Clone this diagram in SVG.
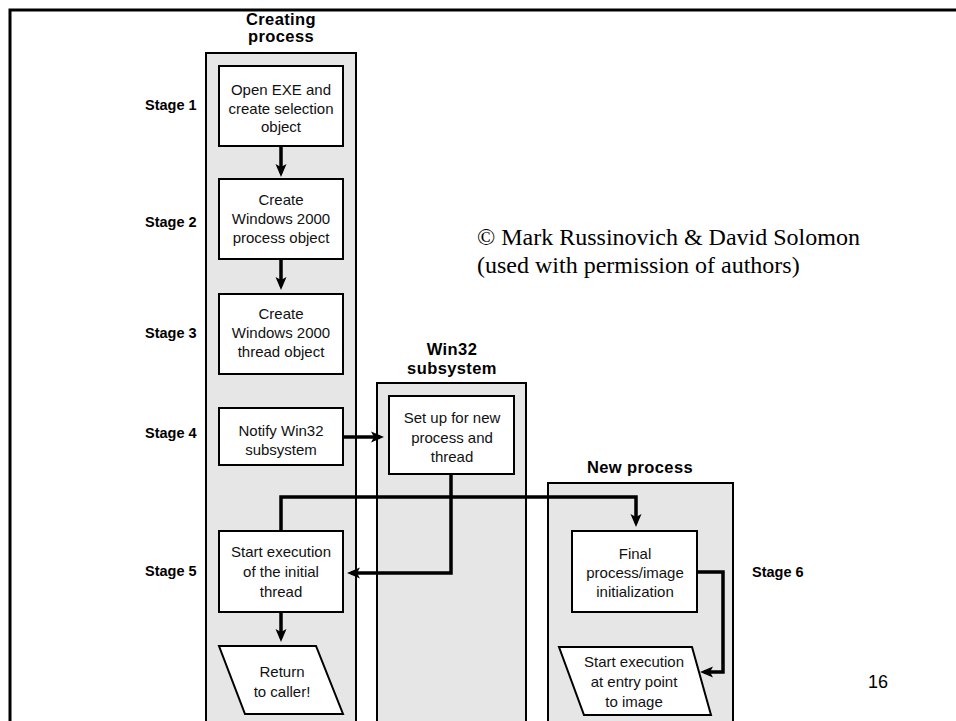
<svg xmlns="http://www.w3.org/2000/svg" width="956" height="721" viewBox="0 0 956 721">
<style>
  .frame{fill:none;stroke:#000;stroke-width:3}
  .lane{fill:#e6e6e6;stroke:#000;stroke-width:2}
  .box{fill:#fff;stroke:#000;stroke-width:2}
  .t{font-family:"Liberation Sans",Arial,sans-serif;font-size:15px;fill:#111;text-anchor:middle}
  .stage{font-family:"Liberation Sans",Arial,sans-serif;font-size:14.5px;font-weight:bold;fill:#000}
  .title{font-family:"Liberation Sans",Arial,sans-serif;font-size:16.5px;font-weight:bold;letter-spacing:0.4px;fill:#000;text-anchor:middle}
  .conn{fill:none;stroke:#000;stroke-width:3.5;stroke-linejoin:miter}
  .serif{font-family:"Liberation Serif","Times New Roman",serif;font-size:24px;fill:#000}
</style>
<defs>
  <marker id="ah" markerUnits="userSpaceOnUse" markerWidth="14" markerHeight="12" refX="9" refY="6" orient="auto">
    <path d="M0,0.5 L13,6 L0,11.5 L3,6 Z" fill="#000"/>
  </marker>
</defs>
<rect width="956" height="721" fill="#fff"/>
<rect class="frame" x="10" y="10" width="960" height="730"/>

<g id="lane-creating">
  <rect class="lane" x="206" y="53" width="150" height="680"/>
  <text class="title" x="281" y="25">Creating</text>
  <text class="title" x="281" y="42">process</text>
</g>
<g id="lane-win32">
  <rect class="lane" x="377" y="383" width="149" height="350"/>
  <text class="title" x="452" y="355">Win32</text>
  <text class="title" x="452" y="374">subsystem</text>
</g>
<g id="lane-new">
  <rect class="lane" x="548" y="483" width="185" height="250"/>
  <text class="title" x="640" y="473">New process</text>
</g>

<g id="stages">
  <text class="stage" x="145" y="110">Stage 1</text>
  <text class="stage" x="145" y="227">Stage 2</text>
  <text class="stage" x="145" y="338">Stage 3</text>
  <text class="stage" x="145" y="438">Stage 4</text>
  <text class="stage" x="145" y="576">Stage 5</text>
  <text class="stage" x="752" y="577">Stage 6</text>
</g>

<g id="node-open-exe">
  <rect class="box" x="219" y="66" width="124" height="80"/>
  <text class="t" x="281" y="95">Open EXE and</text>
  <text class="t" x="281" y="114">create selection</text>
  <text class="t" x="281" y="132">object</text>
</g>
<g id="node-create-process">
  <rect class="box" x="219" y="179" width="124" height="80"/>
  <text class="t" x="281" y="205">Create</text>
  <text class="t" x="281" y="224">Windows 2000</text>
  <text class="t" x="281" y="243">process object</text>
</g>
<g id="node-create-thread">
  <rect class="box" x="219" y="294" width="124" height="80"/>
  <text class="t" x="281" y="319">Create</text>
  <text class="t" x="281" y="338">Windows 2000</text>
  <text class="t" x="281" y="357">thread object</text>
</g>
<g id="node-notify">
  <rect class="box" x="219" y="408" width="124" height="57"/>
  <text class="t" x="281" y="436">Notify Win32</text>
  <text class="t" x="281" y="455">subsystem</text>
</g>
<g id="node-setup">
  <rect class="box" x="389" y="396" width="125" height="78"/>
  <text class="t" x="452" y="423">Set up for new</text>
  <text class="t" x="452" y="443">process and</text>
  <text class="t" x="452" y="462">thread</text>
</g>
<g id="node-start-initial">
  <rect class="box" x="219" y="531" width="124" height="81"/>
  <text class="t" x="281" y="557">Start execution</text>
  <text class="t" x="281" y="577">of the initial</text>
  <text class="t" x="281" y="597">thread</text>
</g>
<g id="node-return">
  <polygon class="box" points="219,646 316,646 343,714 245,714"/>
  <text class="t" x="282" y="677">Return</text>
  <text class="t" x="282" y="697">to caller!</text>
</g>
<g id="node-final-init">
  <rect class="box" x="572" y="531" width="125" height="81"/>
  <text class="t" x="635" y="559">Final</text>
  <text class="t" x="635" y="578">process/image</text>
  <text class="t" x="635" y="597">initialization</text>
</g>
<g id="node-start-entry">
  <polygon class="box" points="559,647 692,647 711,715 584,715"/>
  <text class="t" x="634" y="667">Start execution</text>
  <text class="t" x="634" y="687">at entry point</text>
  <text class="t" x="634" y="707">to image</text>
</g>

<g id="connectors">
  <path class="conn" d="M281,146 V173" marker-end="url(#ah)"/>
  <path class="conn" d="M281,259 V286" marker-end="url(#ah)"/>
  <path class="conn" d="M343,437 H380" marker-end="url(#ah)"/>
  <path class="conn" d="M451,474 V573 H351" marker-end="url(#ah)"/>
  <path class="conn" d="M281,531 V497 H636 V523" marker-end="url(#ah)"/>
  <path class="conn" d="M281,612 V638" marker-end="url(#ah)"/>
  <path class="conn" d="M697,572 H723 V672 H704" marker-end="url(#ah)"/>
</g>

<g id="notes">
  <text class="serif" x="477" y="245">© Mark Russinovich &amp; David Solomon</text>
  <text class="serif" x="477" y="273">(used with permission of authors)</text>
  <text x="868" y="688" font-family="Liberation Sans, Arial, sans-serif" font-size="18" fill="#000">16</text>
</g>
</svg>
